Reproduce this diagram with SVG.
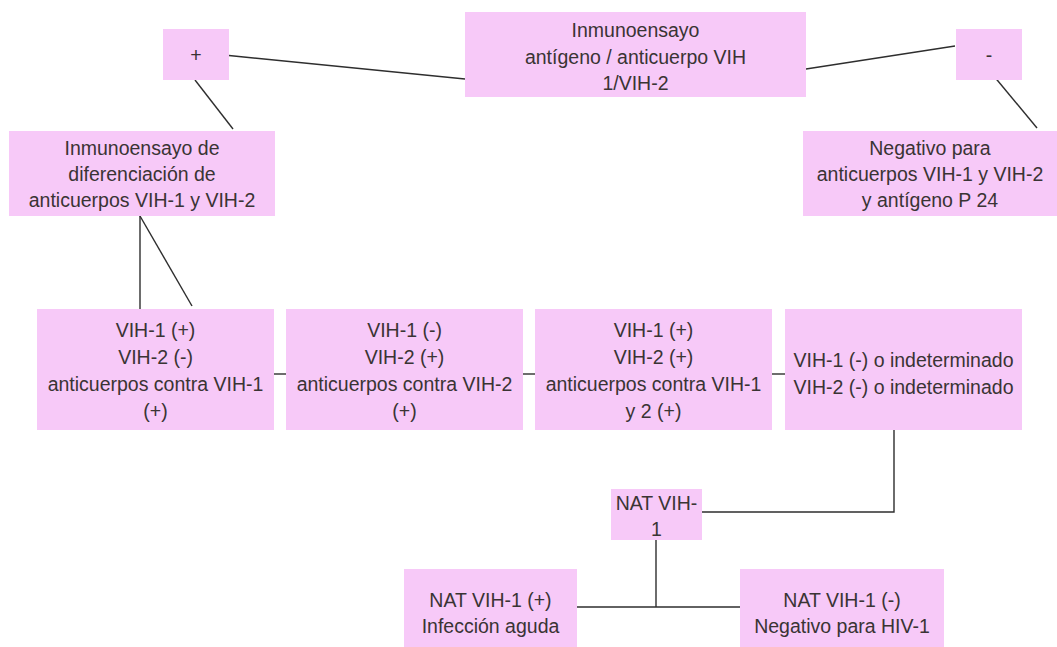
<svg xmlns="http://www.w3.org/2000/svg" width="1057" height="647" viewBox="0 0 1057 647">
<style>
.box{fill:#F7C9F8;}
.t{font-family:"Liberation Sans",Arial,sans-serif;font-size:19.5px;fill:#3a3434;text-anchor:middle;}
.c{stroke:#2e2e2e;stroke-width:1.4;fill:none;}
</style>
<rect width="1057" height="647" fill="#ffffff"/>
<g id="connectors">
<line class="c" x1="229" y1="55.5" x2="465" y2="79"/>
<line class="c" x1="806" y1="69" x2="955" y2="46"/>
<line class="c" x1="195" y1="80" x2="233" y2="129"/>
<line class="c" x1="993" y1="75" x2="1037" y2="128"/>
<line class="c" x1="140" y1="216" x2="140" y2="309"/>
<line class="c" x1="140" y1="216" x2="192" y2="306"/>
<line class="c" x1="274" y1="374" x2="286" y2="374"/>
<line class="c" x1="523" y1="374" x2="535" y2="374"/>
<line class="c" x1="772" y1="374" x2="785" y2="374"/>
<polyline class="c" points="702,512 894,512 894,430"/>
<line class="c" x1="656" y1="540" x2="656" y2="607"/>
<line class="c" x1="577" y1="607" x2="740" y2="607"/>
</g>
<g id="top">
<rect class="box" x="465" y="12" width="341" height="85"/>
<text class="t" x="635.5" y="37">Inmunoensayo</text>
<text class="t" x="635.5" y="64">antígeno / anticuerpo VIH</text>
<text class="t" x="635.5" y="90">1/VIH-2</text>
</g>
<g id="plus">
<rect class="box" x="163" y="29" width="66" height="51"/>
<text class="t" x="196" y="62">+</text>
</g>
<g id="minus">
<rect class="box" x="956" y="29" width="66" height="51"/>
<text class="t" x="989" y="62">-</text>
</g>
<g id="diferenciacion">
<rect class="box" x="9" y="131" width="266" height="85"/>
<text class="t" x="142" y="155">Inmunoensayo de</text>
<text class="t" x="142" y="181">diferenciación de</text>
<text class="t" x="142" y="207">anticuerpos VIH-1 y VIH-2</text>
</g>
<g id="negativo">
<rect class="box" x="803" y="131" width="254" height="85"/>
<text class="t" x="930" y="155">Negativo para</text>
<text class="t" x="930" y="181">anticuerpos VIH-1 y VIH-2</text>
<text class="t" x="930" y="207">y antígeno P 24</text>
</g>
<g id="r1">
<rect class="box" x="37" y="309" width="237" height="121"/>
<text class="t" x="155.5" y="337">VIH-1 (+)</text>
<text class="t" x="155.5" y="364">VIH-2 (-)</text>
<text class="t" x="155.5" y="391">anticuerpos contra VIH-1</text>
<text class="t" x="155.5" y="418">(+)</text>
</g>
<g id="r2">
<rect class="box" x="286" y="309" width="237" height="121"/>
<text class="t" x="404.5" y="337">VIH-1 (-)</text>
<text class="t" x="404.5" y="364">VIH-2 (+)</text>
<text class="t" x="404.5" y="391">anticuerpos contra VIH-2</text>
<text class="t" x="404.5" y="418">(+)</text>
</g>
<g id="r3">
<rect class="box" x="535" y="309" width="237" height="121"/>
<text class="t" x="653.5" y="337">VIH-1 (+)</text>
<text class="t" x="653.5" y="364">VIH-2 (+)</text>
<text class="t" x="653.5" y="391">anticuerpos contra VIH-1</text>
<text class="t" x="653.5" y="418">y 2 (+)</text>
</g>
<g id="r4">
<rect class="box" x="785" y="309" width="237" height="121"/>
<text class="t" x="903.5" y="366.5">VIH-1 (-) o indeterminado</text>
<text class="t" x="903.5" y="394">VIH-2 (-) o indeterminado</text>
</g>
<g id="nat">
<rect class="box" x="611" y="489" width="91" height="51"/>
<text class="t" x="656.5" y="510">NAT VIH-</text>
<text class="t" x="656.5" y="536">1</text>
</g>
<g id="natpos">
<rect class="box" x="404" y="569" width="173" height="78"/>
<text class="t" x="490.5" y="607">NAT VIH-1 (+)</text>
<text class="t" x="490.5" y="633">Infección aguda</text>
</g>
<g id="natneg">
<rect class="box" x="740" y="569" width="204" height="78"/>
<text class="t" x="842" y="607">NAT VIH-1 (-)</text>
<text class="t" x="842" y="633">Negativo para HIV-1</text>
</g>
</svg>
